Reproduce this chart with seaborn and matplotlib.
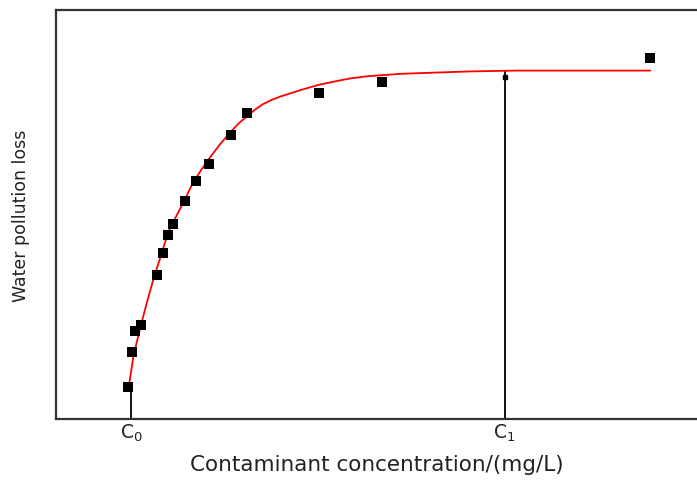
import numpy as np
import pandas as pd
import matplotlib
matplotlib.use('Agg')
import matplotlib.pyplot as plt
import seaborn as sns

conc = [11.3, 11.9, 12.3, 13.2, 15.7, 16.7, 17.5, 18.3, 20.1, 21.8, 23.9,
        27.3, 29.8, 41.0, 50.9, 92.7]
loss = [7.8, 16.3, 21.5, 23.1, 35.2, 40.6, 45.1, 47.7, 53.4, 58.2, 62.3,
        69.4, 74.8, 79.7, 82.3, 88.4]

# Fitted curve
curve_x = [11.3, 12.1, 13.1, 14.2, 15.2, 16.2, 17.5, 18.8, 19.9, 21.4, 22.7,
           24.0, 25.6, 27.2, 28.5, 29.8, 31.0, 32.3, 33.6, 34.9, 36.5, 38.1,
           39.6, 41.2, 44.3, 46.0, 48.5, 53.7, 58.9, 64.6, 71.9, 92.7]
curve_y = [7.3, 15.5, 22.0, 28.6, 34.2, 39.1, 45.6, 49.7, 53.0, 57.9, 61.0,
           63.9, 67.2, 70.1, 72.3, 74.0, 75.6, 77.0, 78.0, 78.8, 79.6, 80.4,
           81.1, 81.8, 82.8, 83.3, 83.8, 84.4, 84.7, 85.0, 85.2, 85.2]

c0, c1 = 11.7, 70.0
tick_labels = ['C$_0$', 'C$_1$']

sns.set_style('white')
plt.rcParams['font.family'] = ['DejaVu Sans']
plt.rcParams['mathtext.default'] = 'regular'

df_pts = pd.DataFrame({'x': conc, 'y': loss})
df_fit = pd.DataFrame({'x': curve_x, 'y': curve_y})

fig = plt.figure(figsize=(6.97, 4.81), dpi=100)
ax = fig.add_axes([0.0803, 0.1268, 0.9197, 0.8502])

sns.lineplot(data=df_fit, x='x', y='y', color='red', linewidth=1.3, ax=ax,
             zorder=2)
sns.scatterplot(data=df_pts, x='x', y='y', marker='s', s=55, color='black',
                edgecolor='black', linewidth=0, ax=ax, zorder=3)

# reference lines at C0 and C1
ax.plot([c0, c0], [0, loss[0]], color='black', linewidth=1.3, zorder=1)
ax.plot([c1, c1], [0, 85.1], color='black', linewidth=1.3, zorder=1)
ax.plot([c1], [83.6], marker='s', markersize=3, color='black')

ax.set_xlim(0, 100)
ax.set_ylim(0, 100)
ax.set_xticks([c0, c1])
ax.set_xticklabels(tick_labels, fontsize=13.5, color='#222222')
ax.set_yticks([])
ax.tick_params(axis='x', length=0, pad=2)
ax.set_xlabel('Contaminant concentration/(mg/L)', fontsize=15.5,
              labelpad=8, color='#222222')
ax.set_ylabel('Water pollution loss', fontsize=12.5, labelpad=19,
              color='#222222')

for side in ['left', 'top', 'bottom']:
    ax.spines[side].set_color('#333333')
    ax.spines[side].set_linewidth(1.6)
ax.spines['right'].set_visible(False)

fig.savefig('out.png', dpi=100)
